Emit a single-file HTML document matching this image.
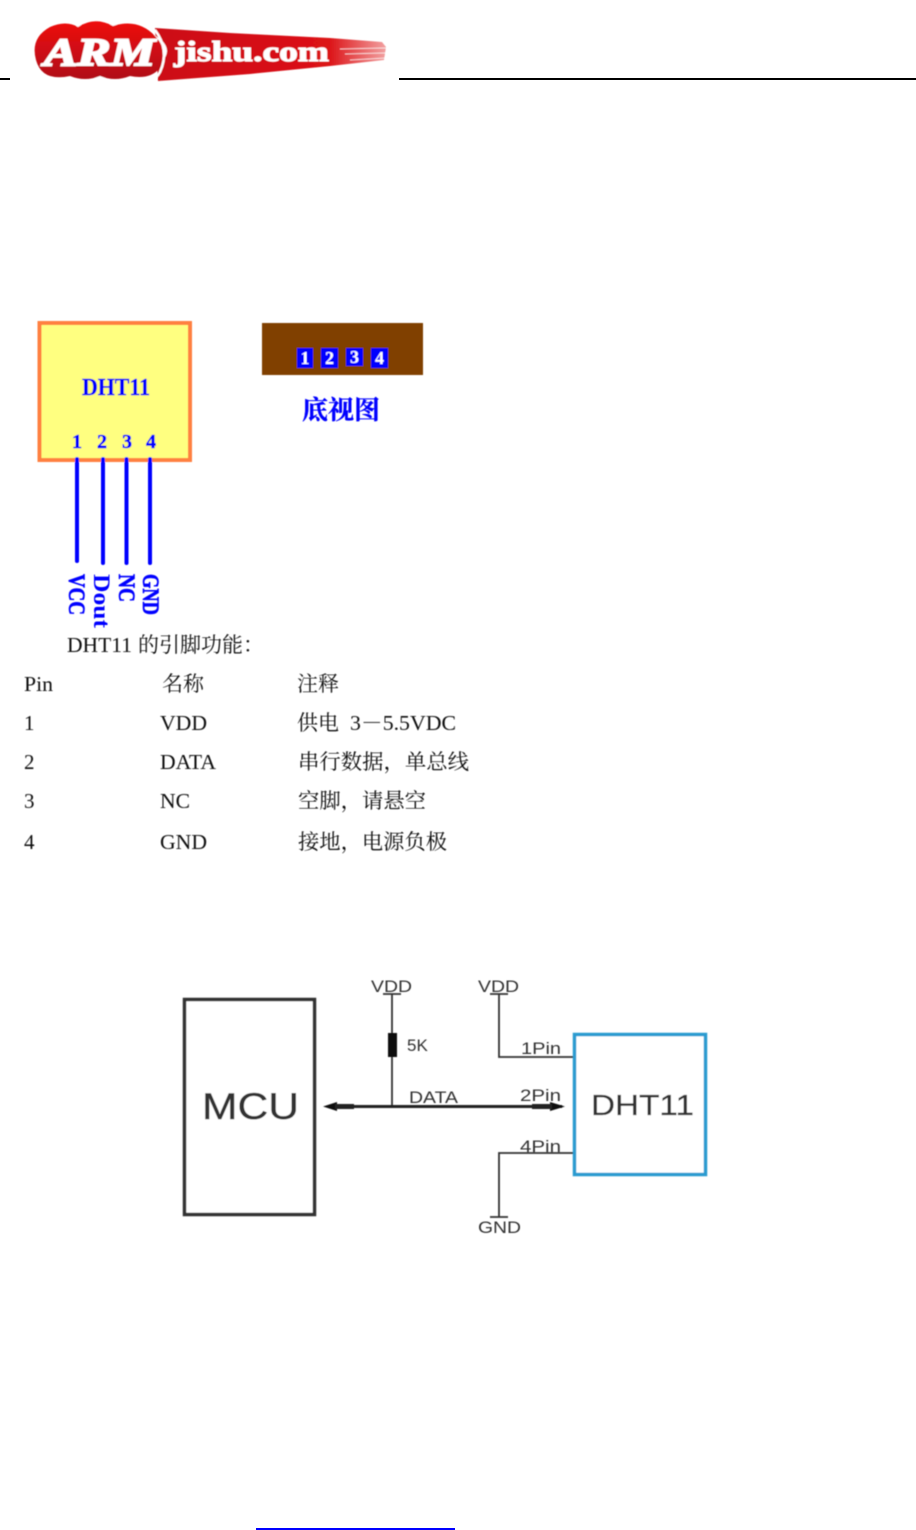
<!DOCTYPE html>
<html><head><meta charset="utf-8"><style>
html,body{margin:0;padding:0;background:#fff;width:916px;height:1530px;overflow:hidden}
svg{display:block}
.s{font-family:"Liberation Serif","Noto Serif CJK SC",serif;fill:#111;font-size:21px}
.b{font-family:"Liberation Serif","Noto Serif CJK SC",serif;fill:#0000ff;font-weight:bold}
.a{font-family:"Liberation Sans",sans-serif;fill:#333}
</style></head><body>
<svg width="916" height="1530" viewBox="0 0 916 1530" xmlns="http://www.w3.org/2000/svg">
<defs>
<filter id="f" x="-5%" y="-5%" width="110%" height="110%"><feGaussianBlur stdDeviation="0.55"/></filter>
<filter id="g" x="-5%" y="-5%" width="110%" height="110%"><feGaussianBlur stdDeviation="0.4"/></filter>
<linearGradient id="r" x1="0" y1="0" x2="0" y2="1"><stop offset="0" stop-color="#ee1010"/><stop offset="1" stop-color="#b01015"/></linearGradient>
<linearGradient id="st" x1="0" y1="0" x2="1" y2="0"><stop offset="0" stop-color="#cc0f14"/><stop offset=".75" stop-color="#dc1216"/><stop offset="1" stop-color="#f2a0a0"/></linearGradient>
</defs>
<rect width="916" height="1530" fill="#fff"/>
<rect x="0" y="78" width="10" height="2" fill="#000"/>
<rect x="399" y="78" width="517" height="2" fill="#000"/>

<g filter="url(#f)">
<path d="M155 28 L230 33 L330 38 L382 42 L386 47 L384 60 L330 66 L250 74 L158 81 Z" fill="url(#st)"/>
<g stroke="#fff" stroke-width="1" opacity=".7"><line x1="340" y1="49" x2="386" y2="48"/><line x1="345" y1="54" x2="386" y2="53"/><line x1="350" y1="60" x2="386" y2="58"/></g>
<ellipse cx="101" cy="51" rx="66" ry="27" fill="#fff"/>
<path d="M50 27 Q66 20 78 27 Q95 16 113 26 Q138 18 155 36 Q170 52 160 68 Q150 80 130 76 Q115 82 100 76 Q85 82 70 76 Q42 82 36 60 Q30 38 50 27Z" fill="url(#r)"/>
<path d="M155 30 Q170 50 160 72 Q157 78 152 79" fill="none" stroke="#fff" stroke-width="2.500"/>
<text x="44" y="65" font-family="Liberation Serif,serif" font-weight="bold" font-style="italic" font-size="39" fill="#fff" stroke="#fff" stroke-width="1.800" textLength="111" lengthAdjust="spacingAndGlyphs">ARM</text>
<text x="174" y="61" font-family="Liberation Serif,serif" font-weight="bold" font-size="28" fill="#fff" stroke="#fff" stroke-width=".9" textLength="155" lengthAdjust="spacingAndGlyphs">jishu.com</text>
</g>

<g filter="url(#g)">
<rect x="39.500" y="323" width="150.500" height="137" fill="#ffff80" stroke="#ff8040" stroke-width="4"/>
<text class="b" x="82" y="395" font-size="24" stroke="#0000ff" stroke-width=".4" textLength="68" lengthAdjust="spacingAndGlyphs">DHT11</text>
<g class="b" font-size="20" stroke="#0000ff" stroke-width=".6"><text x="72" y="448">1</text><text x="97" y="448">2</text><text x="122" y="448">3</text><text x="146" y="448">4</text></g>
<g stroke="#0000ff" stroke-width="4" stroke-linecap="round"><line x1="77" y1="459" x2="77" y2="561"/><line x1="103" y1="459" x2="103" y2="563"/><line x1="126.500" y1="459" x2="126.500" y2="563"/><line x1="150" y1="459" x2="150" y2="563"/></g>
<g class="b" font-size="23">
<text transform="translate(69,574) rotate(90)" stroke="#0000ff" stroke-width=".6" textLength="41" lengthAdjust="spacingAndGlyphs">VCC</text>
<text transform="translate(94,574) rotate(90)" textLength="54" lengthAdjust="spacingAndGlyphs">Dout</text>
<text transform="translate(119,574) rotate(90)" stroke="#0000ff" stroke-width=".6" textLength="28" lengthAdjust="spacingAndGlyphs">NC</text>
<text transform="translate(143,574) rotate(90)" stroke="#0000ff" stroke-width=".6" textLength="41" lengthAdjust="spacingAndGlyphs">GND</text>
</g>
<rect x="262" y="323" width="161" height="52" fill="#804000"/>
<g fill="#0000ff"><rect x="297" y="348" width="16" height="20"/><rect x="321" y="348" width="17" height="20"/><rect x="346" y="348" width="17" height="18"/><rect x="371" y="348" width="17" height="20"/></g>
<g font-family="Liberation Serif,serif" font-weight="bold" font-size="18" fill="#fff" text-anchor="middle"><text x="305" y="364">1</text><text x="329.500" y="364">2</text><text x="354.500" y="363">3</text><text x="379.500" y="364">4</text></g>
<text class="b" x="302" y="419" font-size="26" stroke="#0000ff" stroke-width=".3" font-family="Noto Sans CJK SC,sans-serif">底视图</text>
</g>

<g filter="url(#g)">
<text class="s" x="67" y="652" textLength="65" lengthAdjust="spacingAndGlyphs">DHT11</text><text class="s" x="138" y="652">的引脚功能：</text>
<text class="s" x="24" y="691" textLength="29" lengthAdjust="spacingAndGlyphs">Pin</text><text class="s" x="162" y="691">名称</text><text class="s" x="297" y="691">注释</text>
<text class="s" x="24" y="730">1</text><text class="s" x="160" y="730" textLength="47" lengthAdjust="spacingAndGlyphs">VDD</text><text class="s" x="297" y="730">供电</text><text class="s" x="350" y="730" textLength="106" lengthAdjust="spacingAndGlyphs">3－5.5VDC</text>
<text class="s" x="24" y="769">2</text><text class="s" x="160" y="769" textLength="56" lengthAdjust="spacingAndGlyphs">DATA</text><text class="s" x="298" y="769" textLength="171" lengthAdjust="spacingAndGlyphs">串行数据，单总线</text>
<text class="s" x="24" y="808">3</text><text class="s" x="160" y="808" textLength="30" lengthAdjust="spacingAndGlyphs">NC</text><text class="s" x="298" y="808" textLength="128" lengthAdjust="spacingAndGlyphs">空脚，请悬空</text>
<text class="s" x="24" y="849">4</text><text class="s" x="160" y="849" textLength="47" lengthAdjust="spacingAndGlyphs">GND</text><text class="s" x="298" y="849" textLength="149" lengthAdjust="spacingAndGlyphs">接地，电源负极</text>
</g>

<g filter="url(#f)">
<rect x="184.500" y="999.500" width="130" height="215" fill="#fff" stroke="#333" stroke-width="3.500"/>
<rect x="574.500" y="1034.500" width="131" height="140" fill="#fff" stroke="#2a9bd0" stroke-width="3.500"/>
<g stroke="#333" stroke-width="1.800" fill="none">
<line x1="383" y1="994" x2="401" y2="994"/><line x1="392" y1="994" x2="392" y2="1107"/>
<line x1="490" y1="994" x2="508" y2="994"/><path d="M499 994V1057H573"/>
<path d="M573 1153H499V1217"/><line x1="490" y1="1217" x2="508" y2="1217"/>
</g>
<rect x="388" y="1033" width="9" height="24" fill="#111"/>
<line x1="328" y1="1106.500" x2="562" y2="1106.500" stroke="#222" stroke-width="3"/>
<path d="M323 1106.500L337 1102V1111Z M565 1106.500L550 1102V1111Z" fill="#111"/>
<path d="M335 1104H354V1109H335Z M532 1104H552V1109H532Z" fill="#222"/>
<g class="a" font-size="17">
<text x="371" y="992" textLength="41" lengthAdjust="spacingAndGlyphs">VDD</text>
<text x="478" y="992" textLength="41" lengthAdjust="spacingAndGlyphs">VDD</text>
<text x="407" y="1051">5K</text>
<text x="409" y="1103" textLength="49" lengthAdjust="spacingAndGlyphs">DATA</text>
<text x="521" y="1054" textLength="40" lengthAdjust="spacingAndGlyphs">1Pin</text>
<text x="520" y="1101" textLength="41" lengthAdjust="spacingAndGlyphs">2Pin</text>
<text x="520" y="1152" textLength="41" lengthAdjust="spacingAndGlyphs">4Pin</text>
<text x="478" y="1233" textLength="43" lengthAdjust="spacingAndGlyphs">GND</text>
</g>
<text class="a" x="202" y="1119" font-size="37" stroke="#333" stroke-width=".4" textLength="97" lengthAdjust="spacingAndGlyphs">MCU</text>
<text class="a" x="591" y="1115" font-size="29" stroke="#333" stroke-width=".3" textLength="103" lengthAdjust="spacingAndGlyphs">DHT11</text>
</g>

<rect x="256" y="1528" width="199" height="2" fill="#0000ff"/>
</svg>
</body></html>
